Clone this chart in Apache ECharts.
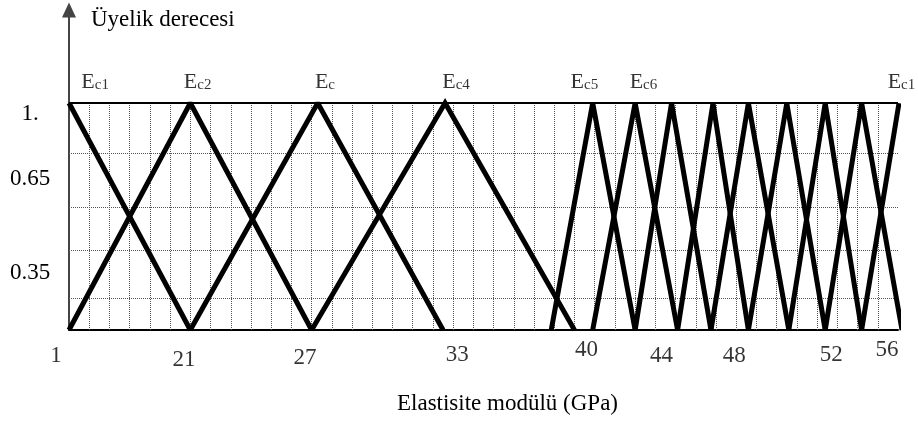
<!DOCTYPE html>
<html>
<head>
<meta charset="utf-8">
<title>Üyelik fonksiyonları</title>
<script src="https://cdn.jsdelivr.net/npm/echarts@6/dist/echarts.min.js"></script>
<style>
  html, body { margin: 0; padding: 0; background: #fff; }
  #chart { width: 918px; height: 421px; }
</style>
</head>
<body>
<div id="chart"></div>
<script>
// x is measured in grid columns of the drawing (41 columns across the plot)
const mfNames = ['Ec1', 'Ec2', 'Ec3', 'Ec4', 'Ec5', 'Ec6', 'Ec7', 'Ec8', 'Ec9', 'Ec10', 'Ec11', 'Ec12', 'Ec13']
const leftFeet = [null, 0, 6, 12, 23.85, 25.9, 28.0, 30.1, 31.75, 33.6, 35.6, 37.4, 39.2]
const peaks = [0, 6, 12.3, 18.6, 25.9, 28.0, 29.8, 31.85, 33.6, 35.5, 37.4, 39.2, 41.05]
const rightFeet = [6, 12, 18.5, 25.0, 28.0, 30.1, 31.75, 33.6, 35.6, 37.4, 39.2, 41.2, null]

// labels over the peaks (E with subscript)
const peakSubs = ['c1', 'c2', 'c', 'c4', 'c5', 'c6', 'c1']
const peakLabelAt = [1.29, 6.36, 12.66, 19.14, 25.49, 28.41, 41.17]

// tick labels as written under the axis
const xTickText = ['1', '21', '27', '33', '40', '44', '48', '52', '56']
const xTickAt = [-0.64, 5.69, 11.67, 19.2, 25.6, 29.3, 32.9, 37.7, 40.45]
const xTickDrop = [26, 30, 28, 25, 20, 26, 26, 25, 20]

const yTickText = ['1.', '0.65', '0.35']
const yTickAt = [0.952, 0.665, 0.253]

const gridLevels = [0.78, 0.54, 0.35, 0.137]

const FONT = 'Liberation Serif'

const chart = echarts.init(document.getElementById('chart'))

const mfSeries = mfNames.map((name, i) => {
  const pts = []
  if (leftFeet[i] !== null) pts.push([leftFeet[i], 0])
  pts.push([peaks[i], 1])
  if (rightFeet[i] !== null) pts.push([rightFeet[i], 0])
  return {
    name: name,
    type: 'line',
    data: pts,
    symbol: 'none',
    clip: false,
    z: 5,
    lineStyle: { color: '#000', width: 5, join: 'miter', miterLimit: 2 }
  }
})

const vLines = []
for (let i = 1; i <= 40; i++) {
  vLines.push([{ coord: [i, 0] }, { coord: [i, 1] }])
}

chart.setOption({
  animation: false,
  backgroundColor: '#fff',
  textStyle: { fontFamily: FONT },
  title: {
    text: 'Üyelik derecesi',
    left: 91,
    top: 8,
    padding: 0,
    textStyle: { fontFamily: FONT, fontSize: 23, fontWeight: 'normal', color: '#000' }
  },
  grid: { left: 69, right: 20, top: 10, bottom: 91 },
  xAxis: {
    type: 'value',
    min: 0,
    max: 41,
    name: 'Elastisite modülü (GPa)',
    nameLocation: 'middle',
    nameGap: 62,
    nameTextStyle: { fontFamily: FONT, fontSize: 23, color: '#000', padding: [0, 0, 0, 48] },
    axisLine: { lineStyle: { color: '#000', width: 2 } },
    axisTick: { show: false },
    axisLabel: { show: false },
    splitLine: { show: false }
  },
  yAxis: {
    type: 'value',
    min: 0,
    max: 1.41,
    axisLine: {
      show: true,
      symbol: ['none', 'triangle'],
      symbolSize: [14, 15],
      lineStyle: { color: '#444', width: 2 }
    },
    axisTick: { show: false },
    splitLine: { show: false },
    axisLabel: {
      customValues: yTickAt,
      formatter: v => yTickText[yTickAt.indexOf(v)] || '',
      align: 'center',
      margin: 39,
      fontFamily: FONT,
      fontSize: 23,
      color: '#000'
    }
  },
  series: [
    {
      name: 'grid',
      type: 'line',
      data: [],
      silent: true,
      z: 1,
      markLine: {
        silent: true,
        symbol: 'none',
        label: { show: false },
        lineStyle: { color: '#555', width: 1, type: 'dotted' },
        data: gridLevels.map(v => ({ yAxis: v })).concat(vLines)
      }
    },
    {
      name: 'top',
      type: 'line',
      data: [],
      silent: true,
      z: 3,
      markLine: {
        silent: true,
        symbol: 'none',
        label: { show: false },
        lineStyle: { color: '#000', width: 2, type: 'solid' },
        data: [{ yAxis: 1 }]
      }
    },
    ...mfSeries,
    {
      name: 'peakLabels',
      type: 'scatter',
      symbolSize: 0,
      clip: false,
      silent: true,
      data: peakSubs.map((s, i) => ({ value: [peakLabelAt[i], 1], sub: s })),
      label: {
        show: true,
        position: 'top',
        distance: 10,
        formatter: p => '{e|E}{s|' + peakSubs[p.dataIndex] + '}',
        rich: {
          e: { fontFamily: FONT, fontSize: 22, color: '#000', verticalAlign: 'bottom' },
          s: { fontFamily: FONT, fontSize: 15, color: '#000', verticalAlign: 'bottom' }
        }
      }
    },
    {
      name: 'xTicks',
      type: 'scatter',
      symbolSize: 0,
      clip: false,
      silent: true,
      data: xTickAt.map((x, i) => ({
        value: [x, 0],
        label: { offset: [0, xTickDrop[i]] }
      })),
      label: {
        show: true,
        position: 'inside',
        formatter: p => xTickText[p.dataIndex],
        fontFamily: FONT,
        fontSize: 23,
        color: '#000'
      }
    }
  ]
})
</script>
</body>
</html>
